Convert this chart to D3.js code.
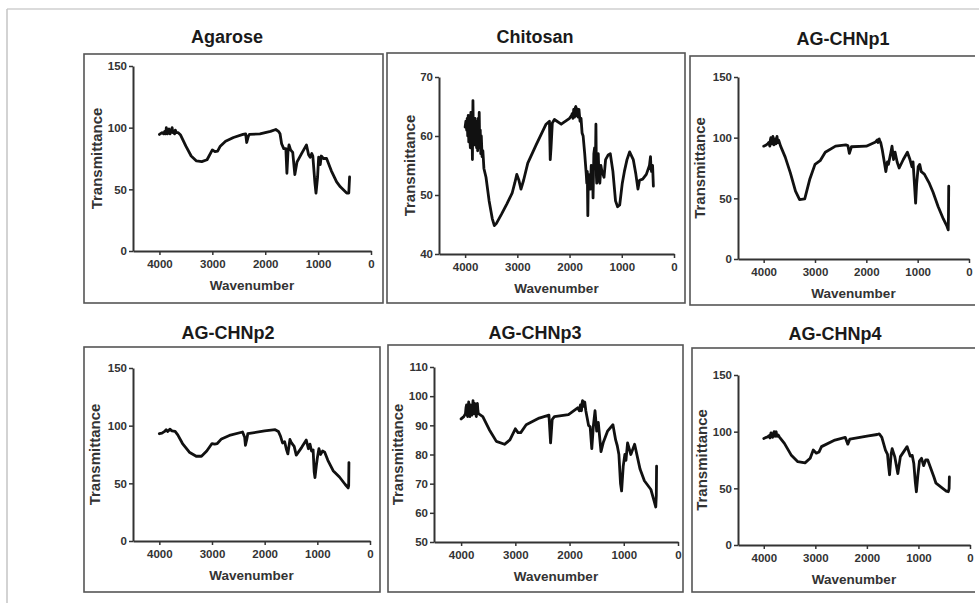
<!DOCTYPE html>
<html>
<head>
<meta charset="utf-8">
<script src="https://cdnjs.cloudflare.com/ajax/libs/d3/7.8.5/d3.min.js"></script>
<style>
  body { margin: 0; background: #fff; }
  svg { display: block; font-family: 'Liberation Sans', Arial, sans-serif; }
</style>
</head>
<body>
<div id="chart"></div>
<script>
'use strict';

// ---- data ----
const titles = ['Agarose', 'Chitosan', 'AG-CHNp1', 'AG-CHNp2', 'AG-CHNp3', 'AG-CHNp4'];
const yDomains = [[0, 150], [40, 70], [0, 150], [0, 150], [50, 110], [0, 150]];
const yTicks = [
  [0, 50, 100, 150],
  [40, 50, 60, 70],
  [0, 50, 100, 150],
  [0, 50, 100, 150],
  [50, 60, 70, 80, 90, 100, 110],
  [0, 50, 100, 150]
];
const xDomain = [4500, 0];
const xTicks = [4000, 3000, 2000, 1000, 0];
const xLabel = 'Wavenumber';
const yLabel = 'Transmittance';

// [wavenumber, transmittance]
const agarose = [[4000,94.5],[3950,96],[3920,95],[3900,97],[3880,95],[3870,100],[3850,95],[3835,98],[3820,99],[3800,95],[3780,97],[3760,100],[3745,96],[3730,97],[3715,95],[3700,98],[3680,96],[3650,96],[3600,94],[3500,85],[3400,77],[3300,73],[3200,72.5],[3100,74],[3000,82],[2950,80.5],[2900,81],[2850,85],[2750,89],[2600,92],[2420,94.5],[2370,95],[2350,88],[2320,93],[2300,94.5],[2100,95],[1900,97],[1800,98.5],[1750,97],[1720,95],[1690,87],[1650,83],[1610,83],[1590,63],[1570,80],[1550,86],[1520,82],[1480,80],[1440,62],[1400,72],[1300,80],[1220,86],[1180,78],[1150,76],[1120,79],[1100,77],[1060,55],[1040,47],[1010,60],[990,76],[960,70],[940,77],[900,75],[840,75],[750,65],[650,56],[580,52],[460,47],[420,47],[405,60]];
const chitosan = [[4000,61.5],[3985,62.5],[3970,61],[3960,63],[3950,60],[3940,63.5],[3930,59],[3920,63],[3910,60],[3900,58],[3890,64],[3880,59],[3870,63],[3860,56],[3850,66],[3840,59],[3835,62],[3825,58.5],[3810,63],[3800,59],[3790,62.5],[3780,58],[3770,62],[3760,57.5],[3750,63],[3740,58],[3730,64],[3720,58],[3710,61],[3700,57],[3690,60],[3675,56.5],[3660,57.5],[3640,54.5],[3600,53],[3540,49],[3480,46],[3440,44.8],[3400,45.2],[3300,46.8],[3200,48.5],[3100,50.3],[3050,52],[3010,53.5],[2970,52.5],[2930,51],[2880,52.5],[2800,55.4],[2640,58.5],[2450,62],[2385,62.5],[2370,56],[2355,58],[2330,62.2],[2290,62.8],[2160,62],[2000,63],[1960,63.5],[1950,63.8],[1935,63],[1920,64.5],[1905,63.2],[1890,64.8],[1880,65],[1865,63.4],[1850,64.6],[1835,63.2],[1820,64.5],[1800,62.5],[1780,63],[1760,60.5],[1740,60],[1710,57],[1680,53.5],[1670,52],[1660,54],[1650,46.5],[1640,53.5],[1630,51],[1615,53],[1600,51],[1585,55],[1570,53],[1560,55],[1550,49.5],[1535,57],[1520,58],[1505,55],[1495,62],[1485,53],[1480,52],[1465,56],[1450,57],[1435,52.5],[1420,52],[1400,55],[1380,54],[1340,53],[1310,56],[1260,56.8],[1220,57],[1170,54],[1120,49],[1080,48],[1040,48.3],[990,52],[950,54],[900,56],[850,57.3],[780,56],[730,53.5],[690,51],[660,52.5],[600,52.7],[530,53.5],[470,55],[450,56.5],[440,54.5],[430,54],[410,55],[395,51.5]];
const chnp1 = [[4000,93],[3950,94],[3920,95],[3900,96],[3880,93],[3870,98],[3860,100],[3850,95],[3840,95],[3830,99],[3820,101],[3810,96],[3800,94],[3790,98],[3780,99],[3770,96],[3760,95],[3750,99],[3740,101],[3730,97],[3720,96],[3710,98],[3700,97],[3670,93],[3580,84],[3480,71],[3380,56],[3300,49],[3200,49.5],[3100,66],[3000,78],[2900,81],[2800,88],[2600,93],[2400,94],[2360,93.5],[2330,87],[2290,92.5],[2000,93],[1820,96.5],[1800,97.5],[1790,98],[1780,96.5],[1770,96],[1760,98.5],[1750,99],[1735,97],[1720,96],[1690,90],[1650,80],[1620,72],[1590,80],[1570,78],[1530,86],[1500,93],[1470,82],[1440,88],[1400,80],[1360,75],[1280,82],[1200,88],[1150,82],[1110,76],[1090,80],[1060,60],[1040,46],[1020,62],[990,76],[960,78],[930,72],[870,70],[780,63],[700,55],[600,43],[500,33],[430,27],[405,24],[400,35],[395,60]];
const chnp2 = [[4000,93],[3950,93.5],[3900,95],[3870,96.5],[3840,95],[3800,97],[3760,95.5],[3700,95],[3650,92],[3560,84.5],[3430,77],[3300,73.5],[3200,73.5],[3100,78],[3000,84.5],[2950,84],[2900,84.5],[2820,88.5],[2670,91.5],[2420,94.5],[2380,90],[2365,83],[2340,88],[2320,93],[2000,95.5],[1800,96.5],[1740,95],[1700,91],[1660,85],[1620,86],[1590,80],[1560,75.5],[1520,88],[1490,85],[1440,82],[1400,74.5],[1300,81],[1210,87.5],[1170,80],[1140,84],[1110,78],[1080,79],[1060,60],[1045,55],[1020,65],[1000,72],[970,80],[940,75],[900,78],[860,77],[800,70],[700,61],[580,55.5],[470,49],[415,46],[405,48],[400,68]];
const chnp3 = [[4000,92.2],[3950,93],[3920,94],[3910,96],[3900,97],[3890,94],[3880,93],[3870,96],[3860,98],[3850,94],[3840,93],[3830,97],[3820,96],[3810,94],[3800,93.5],[3790,96],[3780,98.5],[3770,95],[3760,94],[3750,97.5],[3740,97],[3730,94],[3720,93],[3710,96],[3700,97.5],[3690,95],[3680,94],[3600,93],[3480,88.5],[3350,84.5],[3200,83.5],[3100,85],[3000,88.8],[2950,87.5],[2900,87.5],[2800,90.2],[2560,92.5],[2380,93.5],[2350,84],[2320,92],[2280,93],[2020,93.7],[1850,96],[1820,95],[1800,97],[1790,95.5],[1780,95],[1770,97.5],[1760,98.5],[1745,96.5],[1720,98],[1700,95],[1680,93],[1650,90],[1620,89.5],[1590,82],[1560,90],[1530,95],[1500,88],[1470,91],[1420,81],[1380,84],[1300,88],[1200,90.2],[1150,85],[1120,83],[1090,80],[1060,70],[1040,67.5],[1010,76],[980,80],[960,78],[930,84],[900,82],[870,80],[800,83.5],[700,75],[620,71],[500,68],[440,64],[410,62],[400,66],[395,76]];
const chnp4 = [[4000,94],[3950,95],[3920,95.5],[3900,96.5],[3880,94.5],[3870,97],[3860,99],[3845,96],[3830,95],[3815,98],[3800,100],[3790,97],[3780,96],[3770,99],[3760,100],[3750,97],[3740,96],[3720,97],[3700,95.5],[3600,89.7],[3470,79.5],[3340,73.5],[3200,72.5],[3100,76.5],[3040,83.8],[2980,81],[2930,82],[2880,86.8],[2620,92.6],[2420,95],[2370,89],[2330,93.5],[1970,96.2],[1800,97.5],[1760,98],[1710,95],[1640,83.8],[1600,80],[1580,70],[1560,62],[1530,80],[1510,85],[1460,78],[1400,63],[1350,78],[1220,86.8],[1160,78.5],[1120,79],[1090,72],[1060,55],[1040,47],[1010,62],[980,74],[940,76.5],[900,70],[860,75],[820,75],[700,60],[660,54.5],[530,50],[460,47.5],[420,47],[405,50],[400,60]];
const series = [agarose, chitosan, chnp1, chnp2, chnp3, chnp4];

// ---- layout of the six framed panels ----
// box: frame [x0,y0,x1,y1]; plot: [xLeft,xRight,yTop,yBottom]
const panels = [
  {box: [84, 54, 383, 303],  plot: [133, 371, 66, 251],  title: [227, 43], ylab: 102},
  {box: [387, 53, 685, 303], plot: [439, 674, 77, 254],  title: [535, 43], ylab: 415},
  {box: [690, 56, 990, 305], plot: [738, 969, 77, 259],  title: [843, 45], ylab: 705},
  {box: [84, 347, 380, 592], plot: [133, 370, 368, 541], title: [228, 339], ylab: 100},
  {box: [388, 345, 683, 592], plot: [434, 678, 367, 542], title: [535, 339], ylab: 403},
  {box: [692, 348, 990, 592], plot: [738, 970, 375, 545], title: [835, 340], ylab: 707}
];

const width = 979, height = 603;
const svg = d3.select('#chart').append('svg')
  .attr('width', width)
  .attr('height', height);

svg.append('clipPath').attr('id', 'page')
  .append('rect').attr('x', 0).attr('y', 0).attr('width', 975).attr('height', height);

// slide frame (top and left edges of the screenshot)
svg.append('line').attr('x1', 7).attr('x2', width).attr('y1', 9).attr('y2', 9)
  .attr('stroke', '#b8b8b8').attr('stroke-width', 1.2);
svg.append('line').attr('x1', 7).attr('x2', 7).attr('y1', 9).attr('y2', height)
  .attr('stroke', '#c4c4c4').attr('stroke-width', 1.5);

const root = svg.append('g').attr('clip-path', 'url(#page)');

panels.forEach((p, i) => {
  const g = root.append('g');
  const [bx0, by0, bx1, by1] = p.box;
  const [px0, px1, py0, py1] = p.plot;

  g.append('rect')
    .attr('x', bx0).attr('y', by0)
    .attr('width', bx1 - bx0).attr('height', by1 - by0)
    .attr('fill', 'none').attr('stroke', '#555').attr('stroke-width', 1.6);

  g.append('text')
    .attr('x', p.title[0]).attr('y', p.title[1])
    .attr('text-anchor', 'middle')
    .attr('font-size', 18).attr('font-weight', 'bold').attr('fill', '#1a1a1a')
    .text(titles[i]);

  const x = d3.scaleLinear().domain(xDomain).range([px0, px1]);
  const y = d3.scaleLinear().domain(yDomains[i]).range([py1, py0]);

  const xAxis = g.append('g')
    .attr('transform', `translate(0,${py1})`)
    .call(d3.axisBottom(x).tickValues(xTicks).tickFormat(d3.format('d'))
      .tickSize(4).tickSizeOuter(0).tickPadding(5));
  const yAxis = g.append('g')
    .attr('transform', `translate(${px0},0)`)
    .call(d3.axisLeft(y).tickValues(yTicks[i]).tickFormat(d3.format('d'))
      .tickSize(4).tickSizeOuter(0).tickPadding(2));

  [xAxis, yAxis].forEach(a => {
    a.select('.domain').attr('stroke', '#333').attr('stroke-width', 2);
    a.selectAll('.tick line').attr('stroke', '#333').attr('stroke-width', 1.5);
    a.selectAll('.tick text')
      .attr('fill', '#333').attr('font-size', 11.5).attr('font-weight', 'bold')
      .attr('font-family', "'Liberation Sans', Arial, sans-serif");
  });

  g.append('text')
    .attr('x', (px0 + px1) / 2).attr('y', py1 + 39)
    .attr('text-anchor', 'middle')
    .attr('font-size', 13.5).attr('font-weight', 'bold').attr('fill', '#333')
    .text(xLabel);

  g.append('text')
    .attr('transform', `translate(${p.ylab},${(py0 + py1) / 2}) rotate(-90)`)
    .attr('text-anchor', 'middle')
    .attr('font-size', 15).attr('font-weight', 'bold').attr('fill', '#333')
    .text(yLabel);

  const line = d3.line()
    .x(d => x(d[0]))
    .y(d => y(d[1]));

  g.append('path')
    .datum(series[i])
    .attr('d', line)
    .attr('fill', 'none')
    .attr('stroke', '#111')
    .attr('stroke-width', 2.8)
    .attr('stroke-linejoin', 'round')
    .attr('stroke-linecap', 'round');
});
</script>
</body>
</html>
